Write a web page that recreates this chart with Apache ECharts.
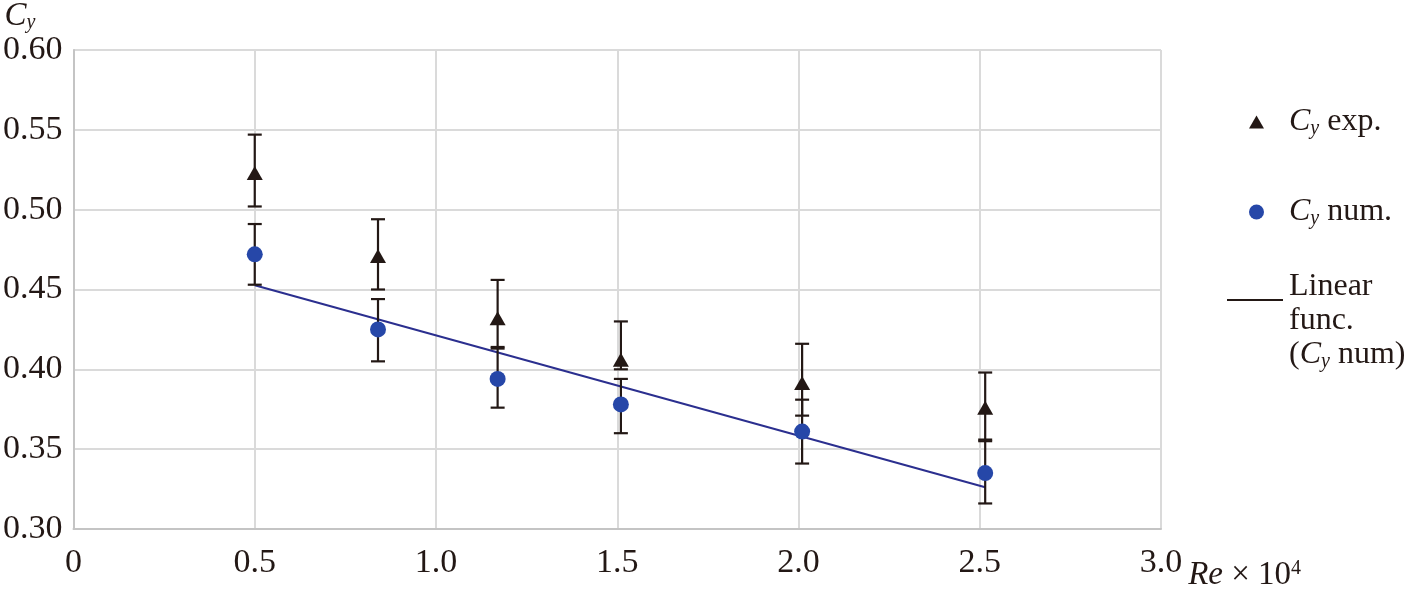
<!DOCTYPE html>
<html><head><meta charset="utf-8">
<script src="https://cdn.jsdelivr.net/npm/echarts@6/dist/echarts.min.js"></script>
<style>html,body{margin:0;padding:0;background:#fff}#c{width:1415px;height:592px}</style>
</head><body><div id="c"></div>
<script>
// ---- data ----
const reX     = [0.50, 0.84, 1.17, 1.51, 2.01, 2.515];
const expVal  = [0.523, 0.471, 0.432, 0.406, 0.3915, 0.376];
const expLow  = [0.502, 0.450, 0.414, 0.400, 0.371, 0.355];
const expHigh = [0.547, 0.494, 0.456, 0.430, 0.416, 0.398];
const numVal  = [0.472, 0.425, 0.394, 0.378, 0.361, 0.335];
const numLow  = [0.453, 0.405, 0.376, 0.360, 0.341, 0.316];
const numHigh = [0.491, 0.444, 0.413, 0.394, 0.381, 0.356];
const fitX    = [0.50, 2.515];
const fitY    = [0.4527, 0.3261];
const xTickLabels = ['0', '0.5', '1.0', '1.5', '2.0', '2.5', '3.0'];
const yTickLabels = ['0.30', '0.35', '0.40', '0.45', '0.50', '0.55', '0.60'];
const seriesNames = ['Cy exp.', 'Cy num.', 'Linear func. (Cy num)'];
const legendLabels = ['{i|C}{s|y} exp.', '{i|C}{s|y} num.', 'Linear\nfunc.\n({i|C}{s|y} num)'];

const FONT = '"Liberation Serif", "Times New Roman", serif';
const INK = '#231815';
const BLUE = '#2647a8';
const richSub = {
  i: {fontFamily: FONT, fontStyle: 'italic', fontSize: 32, color: INK},
  s: {fontFamily: FONT, fontStyle: 'italic', fontSize: 20, color: INK, verticalAlign: 'bottom', padding: [10, 0, 0, 0]}
};

function pairs(xs, ys) { return xs.map((x, k) => [x, ys[k]]); }
function triples(xs, a, b) { return xs.map((x, k) => [x, a[k], b[k]]); }

function errRender(params, api) {
  const x = api.value(0), lo = api.value(1), hi = api.value(2);
  const pLo = api.coord([x, lo]), pHi = api.coord([x, hi]);
  const w = 7;
  const style = {stroke: INK, lineWidth: 2.2, fill: null};
  return {type: 'group', children: [
    {type: 'line', shape: {x1: pLo[0], y1: pLo[1], x2: pHi[0], y2: pHi[1]}, style: style},
    {type: 'line', shape: {x1: pHi[0] - w, y1: pHi[1], x2: pHi[0] + w, y2: pHi[1]}, style: style},
    {type: 'line', shape: {x1: pLo[0] - w, y1: pLo[1], x2: pLo[0] + w, y2: pLo[1]}, style: style}
  ]};
}

function textStyleWith(pad) {
  return {fontFamily: FONT, fontSize: 32, color: INK, lineHeight: 34, padding: pad, rich: richSub};
}

const chart = echarts.init(document.getElementById('c'), null, {renderer: 'canvas'});
chart.setOption({
  animation: false,
  backgroundColor: '#fff',
  grid: {left: 73, right: 254, top: 50, bottom: 60},
  legend: [
    {
      data: [{name: seriesNames[0], icon: 'triangle', itemStyle: {color: INK}}],
      orient: 'vertical', left: 1244, top: 100,
      itemWidth: 15, itemHeight: 13, selectedMode: false,
      formatter: function () { return legendLabels[0]; },
      textStyle: textStyleWith([0, 0, 0, 20])
    },
    {
      data: [{name: seriesNames[1], icon: 'circle', itemStyle: {color: BLUE}}],
      orient: 'vertical', left: 1244, top: 190,
      itemWidth: 15, itemHeight: 15, selectedMode: false,
      formatter: function () { return legendLabels[1]; },
      textStyle: textStyleWith([0, 0, 0, 20])
    },
    {
      data: [{name: seriesNames[2], icon: 'path://M0,0L56,0L56,2L0,2Z', itemStyle: {color: INK}}],
      orient: 'vertical', left: 1222, top: 223,
      itemWidth: 56, itemHeight: 15, selectedMode: false,
      formatter: function () { return legendLabels[2]; },
      textStyle: textStyleWith([42, 0, 0, 1])
    }
  ],
  xAxis: {
    type: 'value', min: 0, max: 3, interval: 0.5,
    name: '{i|Re} × 10{p|4}',
    nameLocation: 'end', nameGap: 26,
    nameTextStyle: {
      fontFamily: FONT, fontSize: 33, color: INK, verticalAlign: 'top', padding: [30, 0, 0, 0],
      rich: {
        i: {fontFamily: FONT, fontStyle: 'italic', fontSize: 33, color: INK},
        p: {fontFamily: FONT, fontSize: 20, color: INK, verticalAlign: 'top', padding: [0, 0, 12, 0]}
      }
    },
    axisLine: {show: true, lineStyle: {color: '#c4c4c4', width: 2}},
    axisTick: {show: false},
    splitLine: {show: true, lineStyle: {color: '#dadada', width: 2}},
    axisLabel: {
      fontFamily: FONT, fontSize: 34, color: INK, margin: 17,
      formatter: function (v, idx) { return xTickLabels[idx]; }
    }
  },
  yAxis: {
    type: 'value', min: 0.30, max: 0.60, interval: 0.05,
    name: '{i|C}{s|y}',
    nameLocation: 'end', nameGap: 14,
    nameTextStyle: {
      align: 'right', padding: [0, 38, 0, 0],
      rich: {
        i: {fontFamily: FONT, fontStyle: 'italic', fontSize: 33, color: INK},
        s: {fontFamily: FONT, fontStyle: 'italic', fontSize: 20, color: INK, verticalAlign: 'bottom', padding: [12, 0, 0, 0]}
      }
    },
    axisLine: {show: true, lineStyle: {color: '#c4c4c4', width: 2}},
    axisTick: {show: false},
    splitLine: {show: true, lineStyle: {color: '#dadada', width: 2}},
    axisLabel: {
      fontFamily: FONT, fontSize: 34, color: INK, margin: 11,
      formatter: function (v, idx) { return yTickLabels[idx]; }
    }
  },
  series: [
    {
      name: seriesNames[2], type: 'line', data: pairs(fitX, fitY),
      symbol: 'none', z: 2,
      lineStyle: {color: '#2b2f8f', width: 2}
    },
    {
      name: 'exp-err', type: 'custom', renderItem: errRender, z: 3,
      data: triples(reX, expLow, expHigh), encode: {x: 0, y: [1, 2]}, silent: true
    },
    {
      name: 'num-err', type: 'custom', renderItem: errRender, z: 3,
      data: triples(reX, numLow, numHigh), encode: {x: 0, y: [1, 2]}, silent: true
    },
    {
      name: seriesNames[0], type: 'scatter', data: pairs(reX, expVal),
      symbol: 'triangle', symbolSize: [16, 14], z: 4,
      itemStyle: {color: INK, opacity: 1}
    },
    {
      name: seriesNames[1], type: 'scatter', data: pairs(reX, numVal),
      symbol: 'circle', symbolSize: 16, z: 5,
      itemStyle: {color: BLUE, opacity: 1}
    }
  ]
});
</script>
</body></html>
